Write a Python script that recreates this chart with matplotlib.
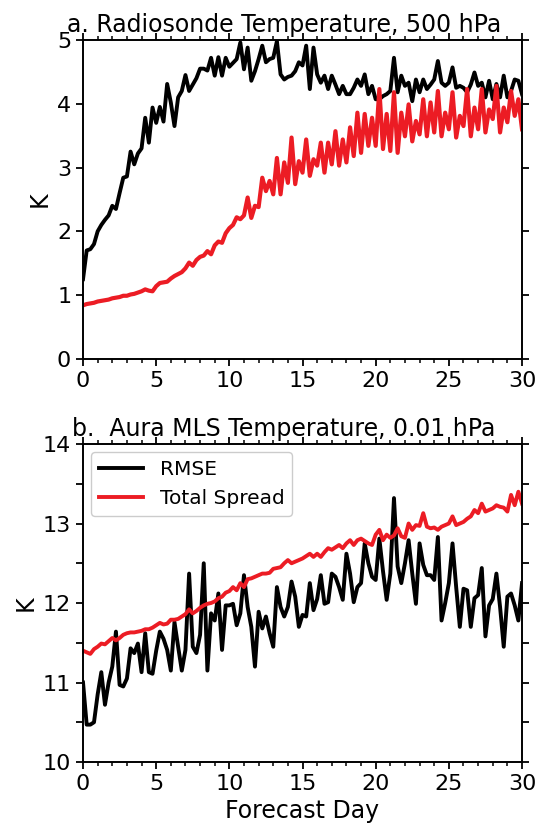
import numpy as np
import matplotlib
matplotlib.use('Agg')
import matplotlib.pyplot as plt
from matplotlib.ticker import MultipleLocator

# forecast day, 6-hourly output
forecast_day = np.linspace(0, 30, 121)

# panel a: radiosonde temperature, 500 hPa (K)
raob_rmse = [
    1.25, 1.70, 1.72, 1.80, 2.00, 2.10, 2.18, 2.25, 2.40, 2.35,
    2.60, 2.84, 2.86, 3.25, 3.05, 3.22, 3.30, 3.78, 3.39, 3.94,
    3.70, 3.95, 3.72, 4.31, 4.02, 3.65, 4.10, 4.20, 4.45, 4.20,
    4.30, 4.40, 4.55, 4.55, 4.52, 4.72, 4.44, 4.73, 4.44, 4.72,
    4.58, 4.64, 4.70, 4.96, 4.54, 4.88, 4.36, 4.51, 4.70, 4.91,
    4.65, 4.70, 4.72, 4.98, 4.46, 4.38, 4.42, 4.44, 4.51, 4.65,
    4.60, 4.91, 4.23, 4.88, 4.46, 4.33, 4.44, 4.23, 4.44, 4.30,
    4.15, 4.28, 4.15, 4.15, 4.25, 4.38, 4.28, 4.46, 4.15, 4.28,
    4.07, 4.07, 4.12, 4.15, 4.20, 4.72, 4.18, 4.44, 4.28, 4.33,
    4.04, 4.38, 4.18, 4.38, 4.23, 4.30, 4.38, 4.67, 4.33, 4.28,
    4.33, 4.57, 4.25, 4.28, 4.25, 4.18, 4.30, 4.49, 4.28, 4.33,
    4.10, 4.36, 4.07, 4.31, 4.10, 4.44, 4.10, 4.20, 4.38, 4.36,
    4.15,
]
raob_spread = [
    0.84, 0.86, 0.87, 0.88, 0.90, 0.91, 0.92, 0.93, 0.95, 0.96,
    0.97, 0.99, 0.99, 1.01, 1.02, 1.04, 1.06, 1.09, 1.07, 1.06,
    1.14, 1.19, 1.20, 1.21, 1.26, 1.30, 1.33, 1.36, 1.42, 1.51,
    1.46, 1.55, 1.60, 1.62, 1.69, 1.64, 1.78, 1.84, 1.82, 1.97,
    2.05, 2.10, 2.22, 2.19, 2.25, 2.53, 2.21, 2.40, 2.38, 2.84,
    2.63, 2.79, 2.58, 3.15, 2.58, 3.08, 2.76, 3.47, 2.74, 3.10,
    2.92, 3.44, 2.87, 3.13, 3.03, 3.39, 2.92, 3.39, 3.05, 3.57,
    3.03, 3.44, 3.08, 3.63, 3.18, 3.86, 3.23, 3.84, 3.34, 3.78,
    3.34, 4.23, 3.29, 3.84, 3.26, 4.18, 3.23, 3.86, 3.49, 3.99,
    3.41, 3.73, 3.52, 4.07, 3.49, 4.02, 3.55, 4.20, 3.49, 3.86,
    3.60, 4.18, 3.47, 3.81, 3.65, 4.23, 3.49, 3.94, 3.60, 4.23,
    3.55, 3.91, 3.76, 4.28, 3.55, 3.94, 3.71, 4.20, 3.81, 4.07,
    3.60,
]

# panel b: Aura MLS temperature, 0.01 hPa (K)
mls_rmse = [
    11.00, 10.47, 10.47, 10.50, 10.85, 11.13, 10.72, 11.00, 11.20, 11.64,
    10.97, 10.95, 11.05, 11.43, 11.37, 11.49, 11.13, 11.62, 11.13, 11.11,
    11.40, 11.64, 11.55, 11.41, 11.15, 11.76, 11.45, 11.15, 11.41, 12.37,
    11.45, 11.37, 11.60, 12.50, 11.15, 11.87, 11.78, 12.12, 11.41, 11.97,
    11.97, 11.99, 11.72, 11.87, 12.35, 11.95, 11.70, 11.20, 11.89, 11.68,
    11.83, 11.62, 11.45, 12.20, 11.95, 11.83, 11.95, 12.27, 12.08, 11.70,
    11.85, 11.83, 12.25, 11.91, 12.05, 12.35, 11.99, 12.01, 12.37, 12.33,
    12.20, 12.04, 12.62, 12.37, 12.01, 12.20, 12.25, 12.75, 12.50, 12.33,
    12.29, 12.81, 12.40, 12.04, 12.37, 13.32, 12.46, 12.25, 12.50, 12.79,
    12.37, 11.99, 12.75, 12.48, 12.35, 12.35, 12.29, 12.83, 11.78, 12.00,
    12.25, 12.75, 12.20, 11.70, 12.18, 12.16, 11.70, 12.06, 12.10, 12.44,
    11.58, 11.97, 12.05, 12.37, 11.95, 11.45, 12.08, 12.12, 11.97, 11.78,
    12.25,
]
mls_spread = [
    11.40, 11.38, 11.36, 11.42, 11.45, 11.49, 11.48, 11.52, 11.56, 11.53,
    11.56, 11.60, 11.62, 11.63, 11.63, 11.64, 11.65, 11.67, 11.67, 11.69,
    11.72, 11.75, 11.73, 11.74, 11.79, 11.79, 11.80, 11.83, 11.86, 11.92,
    11.87, 11.90, 11.94, 11.97, 11.99, 12.00, 12.02, 12.06, 12.08, 12.13,
    12.15, 12.20, 12.16, 12.25, 12.20, 12.30, 12.31, 12.33, 12.35, 12.37,
    12.37, 12.38, 12.43, 12.44, 12.45, 12.50, 12.54, 12.50, 12.52, 12.54,
    12.56, 12.59, 12.62, 12.58, 12.62, 12.58, 12.64, 12.69, 12.67, 12.70,
    12.73, 12.69, 12.75, 12.79, 12.73, 12.79, 12.81, 12.78, 12.75, 12.73,
    12.86, 12.92, 12.79, 12.86, 12.82, 12.85, 12.94, 12.84, 12.82, 13.00,
    12.92, 12.98, 12.97, 13.13, 12.96, 12.94, 12.95, 12.92, 12.96, 12.98,
    13.00, 13.09, 12.98, 13.00, 13.02, 13.06, 13.09, 13.17, 13.13, 13.25,
    13.15, 13.17, 13.19, 13.23, 13.21, 13.20, 13.15, 13.36, 13.23, 13.40,
    13.25,
]

RED = '#ec1c24'

plt.rcParams.update({
    'font.family': 'DejaVu Sans',
    'font.size': 16,
    'axes.linewidth': 1.4,
    'xtick.direction': 'out',
    'ytick.direction': 'out',
    'xtick.top': True,
    'ytick.right': True,
    'xtick.major.size': 5,
    'xtick.minor.size': 3,
    'ytick.major.size': 5,
    'ytick.minor.size': 5,
    'xtick.major.width': 1.3,
    'xtick.minor.width': 1.1,
    'ytick.major.width': 1.3,
    'ytick.minor.width': 1.3,
    'xtick.labelsize': 16,
    'ytick.labelsize': 16,
})

fig = plt.figure(figsize=(5.37, 8.27), dpi=100)
ax1 = fig.add_axes([0.1546, 0.566, 0.8175, 0.3857])
ax2 = fig.add_axes([0.1546, 0.0786, 0.8175, 0.3845])

# --- panel a ---
ax1.plot(forecast_day, raob_rmse, color='black', lw=2.8, label='RMSE')
ax1.plot(forecast_day, raob_spread, color=RED, lw=3.0, label='Total Spread')
ax1.set_xlim(0, 30)
ax1.set_ylim(0, 5)
ax1.xaxis.set_major_locator(MultipleLocator(5))
ax1.xaxis.set_minor_locator(MultipleLocator(1))
ax1.yaxis.set_major_locator(MultipleLocator(1))
ax1.set_ylabel('K', fontsize=17)
ax1.set_title('a. Radiosonde Temperature, 500 hPa', fontsize=17, x=0.458, pad=6)

# --- panel b ---
ax2.plot(forecast_day, mls_rmse, color='black', lw=2.8, label='RMSE')
ax2.plot(forecast_day, mls_spread, color=RED, lw=2.8, label='Total Spread')
ax2.set_xlim(0, 30)
ax2.set_ylim(10, 14)
ax2.xaxis.set_major_locator(MultipleLocator(5))
ax2.xaxis.set_minor_locator(MultipleLocator(1))
ax2.yaxis.set_major_locator(MultipleLocator(1))
ax2.yaxis.set_minor_locator(MultipleLocator(0.5))
ax2.set_ylabel('K', fontsize=17)
ax2.set_xlabel('Forecast Day', fontsize=17)
ax2.set_title('b.  Aura MLS Temperature, 0.01 hPa', fontsize=17, x=0.458, pad=6)
ax2.legend(loc='upper left', fontsize=14.5, handlelength=2.2,
           borderaxespad=0.4, framealpha=1, edgecolor='#cccccc')

fig.savefig('out.png', dpi=100)
